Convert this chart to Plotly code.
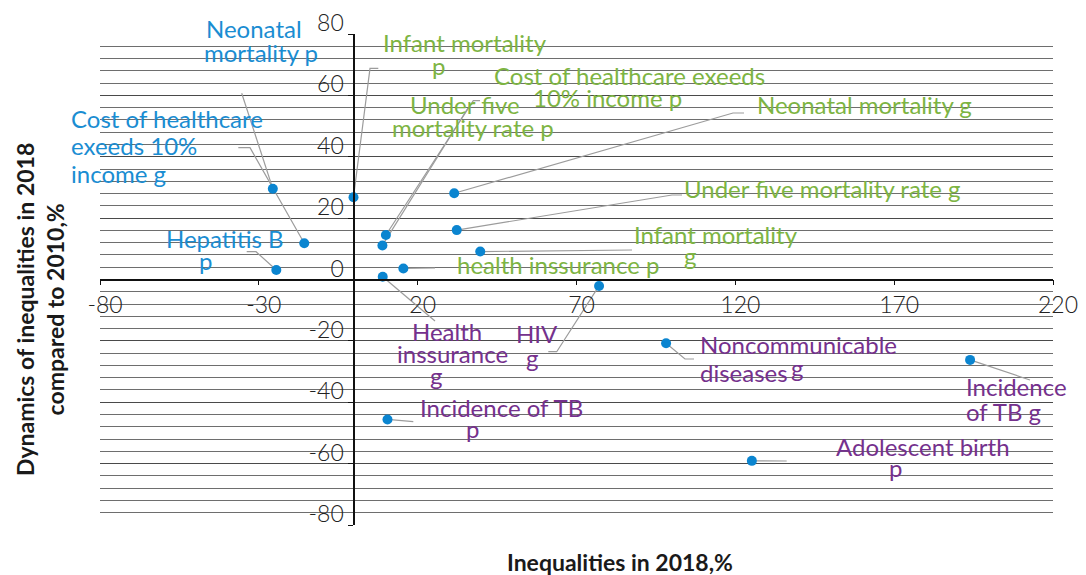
import plotly.graph_objects as go

# ---------------- data ----------------
indicators = [
    "Neonatal mortality p", "Cost of healthcare exeeds 10% income g", "Hepatitis B p",
    "Infant mortality p", "Under five mortality rate p", "Cost of healthcare exeeds 10% income p",
    "Neonatal mortality g", "Under five mortality rate g", "Infant mortality g",
    "health inssurance p", "Health inssurance g", "HIV g", "Noncommunicable diseases g",
    "Incidence of TB g", "Incidence of TB p", "Adolescent birth p",
]
inequalities_2018 = [-25.6, -15.7, -24.5, -0.2, 10.0, 8.9, 31.5, 32.3, 39.7, 15.5, 9.0, 77.1, 98.2, 193.9, 10.5, 125.2]
dynamics_2018_vs_2010 = [29.6, 11.8, 3.1, 26.8, 14.5, 11.1, 28.1, 16.1, 9.1, 3.6, 0.9, -2.1, -20.8, -26.2, -45.6, -59.1]

x_ticks = [-80, -30, 20, 70, 120, 170, 220]
x_tick_labels = ["-80", "-30", "20", "70", "120", "170", "220"]
y_ticks = [-80, -60, -40, -20, 0, 20, 40, 60, 80]
y_tick_labels = ["-80", "-60", "-40", "-20", "0", "20", "40", "60", "80"]

# ---------------- layout helpers ----------------
W, H = 1086, 575
ML, MR, MT, MB = 100, 33, 34, 50
XR, YR = (-80, 220), (-80, 80)
PW, PH = W - ML - MR, H - MT - MB
LABEL_DY = -3  # small vertical nudge of label lines (px)


def P(px, py):
    """pixel position -> data coordinates (leader elbows)"""
    x = XR[0] + (px - ML) / PW * (XR[1] - XR[0])
    y = YR[1] - (py - MT) / PH * (YR[1] - YR[0])
    return x, y


def PP(px, py):
    """pixel position -> paper coordinates (labels)"""
    return (px - ML) / PW, (MT + PH - py) / PH


COLORS = {"blue": "#1a8dd2", "green": "#7db443", "purple": "#75318d"}
DOT = "#0b85d0"
LEADER = "#9c9c9c"

# leader elbows (pixel positions of label-side ends), per indicator
leader_px = [
    [(241.7, 93.3)],
    [(238.3, 147.7), (250, 147.7)],
    [(246.7, 251.7), (256, 251.7)],
    [(378.3, 68.3), (370, 68.3)],
    [(480, 100.7), (473.3, 100.7)],
    [(468, 108)],
    [(744, 113), (733, 113)],
    [(682, 195), (672, 195)],
    [(632, 250)],
    [(435, 268)],
    [(435, 321)],
    [(548.3, 351.7), (556.7, 351.7)],
    [(694, 359), (685, 359)],
    [(1030, 380)],
    [(413.3, 421.7)],
    [(786.7, 461)],
]

# label lines: (text, px, py, xanchor, group)
label_lines = [
    ("Neonatal", 254, 31, "center", "blue"),
    ("mortality p", 260.5, 55, "center", "blue"),
    ("Cost of healthcare", 69, 121, "left", "blue"),
    ("exeeds 10%", 69, 148, "left", "blue"),
    ("income g", 69, 176, "left", "blue"),
    ("Hepatitis B", 224.5, 241, "center", "blue"),
    ("p", 205, 263, "center", "blue"),
    ("Infant mortality", 465, 46, "center", "green"),
    ("p", 438, 68, "center", "green"),
    ("Cost of healthcare exeeds", 629, 78, "center", "green"),
    ("10% income p", 607, 100, "center", "green"),
    ("Under five", 465, 108, "center", "green"),
    ("mortality rate p", 473, 130, "center", "green"),
    ("Neonatal mortality g", 864.5, 108, "center", "green"),
    ("Under five mortality rate g", 822.5, 191, "center", "green"),
    ("Infant mortality", 716, 238, "center", "green"),
    ("g", 690, 258, "center", "green"),
    ("health inssurance p", 558.5, 267, "center", "green"),
    ("Health", 446.5, 334, "center", "purple"),
    ("inssurance", 452.5, 356, "center", "purple"),
    ("g", 436, 378, "center", "purple"),
    ("HIV", 537, 337, "center", "purple"),
    ("g", 532, 360, "center", "purple"),
    ("Noncommunicable", 698, 347, "left", "purple"),
    ("diseases", 698, 375, "left", "purple"),
    ("g", 797, 370, "center", "purple"),
    ("Incidence", 964, 389, "left", "purple"),
    ("of TB g", 964, 414, "left", "purple"),
    ("Incidence of TB", 501.5, 410, "center", "purple"),
    ("p", 472, 431, "center", "purple"),
    ("Adolescent birth", 923, 449, "center", "purple"),
    ("p", 895, 470, "center", "purple"),
]

fig = go.Figure()

# leader lines
lx, ly = [], []
for i, elbows in enumerate(leader_px):
    for (px, py) in elbows:
        x, y = P(px, py)
        lx.append(x)
        ly.append(y)
    lx.append(inequalities_2018[i])
    ly.append(dynamics_2018_vs_2010[i])
    lx.append(None)
    ly.append(None)
fig.add_trace(go.Scatter(x=lx, y=ly, mode="lines", line=dict(color=LEADER, width=1.2),
                         hoverinfo="skip", showlegend=False, cliponaxis=False))

fig.add_trace(go.Scatter(
    x=inequalities_2018, y=dynamics_2018_vs_2010, mode="markers", text=indicators,
    marker=dict(color=DOT, size=10), showlegend=False, cliponaxis=False,
    hovertemplate="%{text}<br>%{x}, %{y}<extra></extra>",
))

annotations = []
for text, px, py, xa, g in label_lines:
    x, y = PP(px, py + LABEL_DY)
    annotations.append(dict(x=x, y=y, xref="paper", yref="paper", text=text, showarrow=False,
                            xanchor=xa, yanchor="middle",
                            font=dict(family="Lato", size=24, color=COLORS[g])))

tx, ty = PP(620, 562)
annotations.append(dict(x=tx, y=ty, xref="paper", yref="paper",
                        yanchor="middle", xanchor="center",
                        text="<b>Inequalities in 2018,%</b>", showarrow=False,
                        font=dict(family="Lato", size=23, color="#1a1a1a")))
tx, ty = PP(40, 310)
annotations.append(dict(x=tx, y=ty, xref="paper", yref="paper",
                        xanchor="center", yanchor="middle", textangle=-90,
                        text="<b>Dynamics of inequalities in 2018<br>compared to 2010,%</b>",
                        showarrow=False,
                        font=dict(family="Lato", size=23, color="#1a1a1a")))

fig.update_layout(
    width=W, height=H,
    margin=dict(l=ML, r=MR, t=MT, b=MB, autoexpand=False),
    paper_bgcolor="white", plot_bgcolor="white",
    font=dict(family="Lato", color="#222"),
    annotations=annotations,
    xaxis=dict(range=list(XR), tickvals=x_ticks, ticktext=x_tick_labels, showgrid=False, zeroline=False,
               showline=True, linecolor="#111", linewidth=1.5,
               anchor="free", position=(0 - YR[0]) / (YR[1] - YR[0]),
               ticks="outside", ticklen=5, tickcolor="#111",
               ticklabelshift=5,
               tickfont=dict(family="Lato", size=23, color="#222", weight=300)),
    yaxis=dict(range=list(YR), tickvals=y_ticks, ticktext=y_tick_labels, showgrid=True,
               gridcolor="#4a4a4a", gridwidth=1,
               zeroline=False, showline=True, linecolor="#111", linewidth=1.5,
               anchor="free", position=(0 - XR[0]) / (XR[1] - XR[0]),
               ticks="outside", ticklen=5, tickcolor="#111",
               ticklabelshift=-11,
               minor=dict(dtick=4, tick0=0, showgrid=True, gridcolor="#6e6e6e", gridwidth=1, ticks=""),
               tickfont=dict(family="Lato", size=23, color="#222", weight=300)),
)

fig.write_html("out.html", post_script="document.body.style.margin='0';",
               config={"displayModeBar": False})
